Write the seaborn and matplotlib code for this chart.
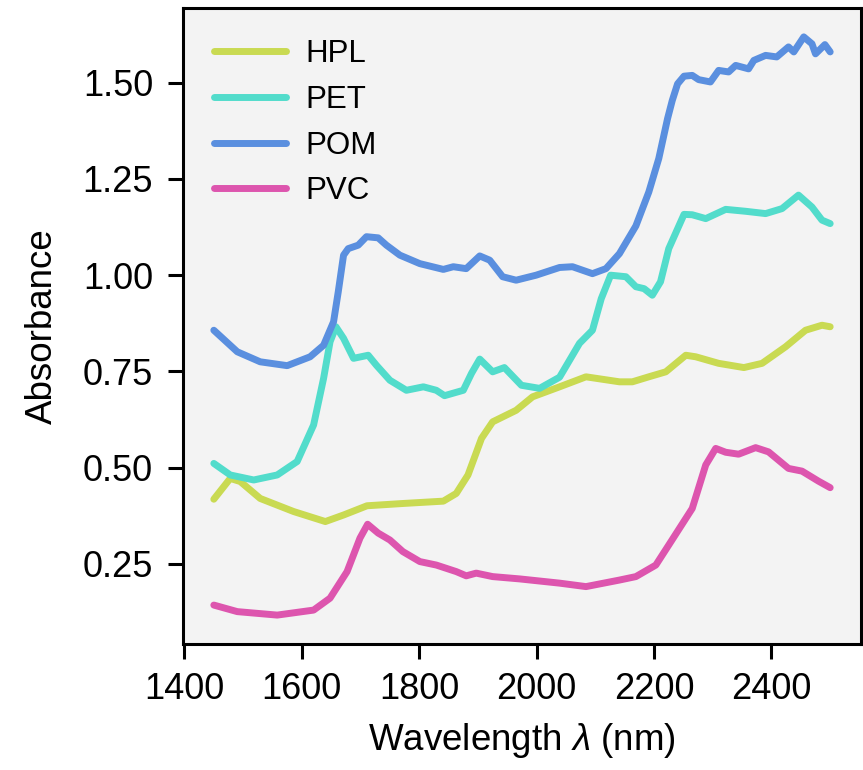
import matplotlib
matplotlib.use("Agg")
import matplotlib.pyplot as plt
import seaborn as sns
import pandas as pd

# ---- data ----
hpl_wl = [1450, 1478, 1495, 1529, 1586, 1640, 1671, 1711, 1773, 1841, 1863, 1883, 1906, 1925,
          1965, 1993, 2039, 2084, 2141, 2163, 2191, 2220, 2254, 2271, 2310, 2353, 2384, 2424,
          2458, 2486, 2500]
hpl_abs = [0.418, 0.472, 0.464, 0.420, 0.386, 0.360, 0.377, 0.401, 0.407, 0.413, 0.433, 0.481,
           0.576, 0.619, 0.649, 0.684, 0.710, 0.736, 0.723, 0.723, 0.736, 0.749, 0.792, 0.788,
           0.771, 0.760, 0.771, 0.814, 0.857, 0.870, 0.866]

pet_wl = [1450, 1478, 1518, 1558, 1592, 1620, 1637, 1648, 1658, 1671, 1688, 1713, 1727, 1750,
          1778, 1807, 1829, 1843, 1875, 1889, 1903, 1925, 1945, 1974, 2005, 2039, 2073, 2095,
          2110, 2126, 2152, 2169, 2183, 2197, 2211, 2225, 2251, 2265, 2288, 2322, 2356, 2390,
          2418, 2446, 2469, 2486, 2500]
pet_abs = [0.511, 0.481, 0.468, 0.481, 0.516, 0.611, 0.732, 0.827, 0.866, 0.836, 0.784, 0.792,
           0.766, 0.727, 0.701, 0.710, 0.701, 0.687, 0.701, 0.745, 0.782, 0.749, 0.760, 0.714,
           0.706, 0.735, 0.823, 0.857, 0.939, 1.000, 0.996, 0.970, 0.965, 0.948, 0.983, 1.069,
           1.158, 1.157, 1.147, 1.171, 1.166, 1.160, 1.173, 1.208, 1.177, 1.143, 1.134]

pom_wl = [1450, 1490, 1529, 1575, 1614, 1637, 1654, 1662, 1671, 1679, 1696, 1710, 1730, 1744,
          1767, 1801, 1841, 1858, 1880, 1903, 1920, 1942, 1965, 1999, 2039, 2061, 2095, 2118,
          2141, 2169, 2191, 2208, 2223, 2231, 2240, 2251, 2265, 2276, 2296, 2310, 2327, 2339,
          2361, 2370, 2390, 2409, 2429, 2438, 2455, 2469, 2475, 2491, 2500]
pom_abs = [0.857, 0.801, 0.775, 0.765, 0.788, 0.818, 0.879, 0.957, 1.052, 1.069, 1.078, 1.100,
           1.097, 1.078, 1.052, 1.030, 1.015, 1.022, 1.017, 1.050, 1.039, 0.996, 0.987, 1.000,
           1.020, 1.022, 1.004, 1.017, 1.056, 1.128, 1.216, 1.303, 1.407, 1.454, 1.497, 1.517,
           1.519, 1.508, 1.502, 1.532, 1.528, 1.545, 1.536, 1.558, 1.571, 1.567, 1.593, 1.580,
           1.619, 1.601, 1.575, 1.599, 1.580]

pvc_wl = [1450, 1490, 1558, 1620, 1648, 1677, 1699, 1712, 1730, 1750, 1772, 1801, 1829, 1863,
          1880, 1897, 1925, 1971, 2039, 2084, 2141, 2169, 2203, 2225, 2265, 2288, 2305, 2322,
          2344, 2373, 2395, 2429, 2452, 2480, 2500]
pvc_abs = [0.143, 0.126, 0.117, 0.130, 0.161, 0.230, 0.317, 0.353, 0.330, 0.312, 0.282, 0.256,
           0.247, 0.230, 0.219, 0.226, 0.217, 0.211, 0.200, 0.191, 0.208, 0.217, 0.247, 0.299,
           0.394, 0.507, 0.550, 0.540, 0.535, 0.552, 0.541, 0.498, 0.491, 0.465, 0.448]

materials = ["HPL", "PET", "POM", "PVC"]
colors = ["#c9da52", "#52dccb", "#5a8fdf", "#dd55ae"]
yticks = [0.25, 0.50, 0.75, 1.00, 1.25, 1.50]
xticks = [1400, 1600, 1800, 2000, 2200, 2400]

frames = []
for name, wl, ab in zip(materials, [hpl_wl, pet_wl, pom_wl, pvc_wl],
                        [hpl_abs, pet_abs, pom_abs, pvc_abs]):
    frames.append(pd.DataFrame({"wl": wl, "abs": ab, "material": name}))
df = pd.concat(frames, ignore_index=True)

sns.set_theme(style="ticks")
plt.rcParams["font.family"] = ["Liberation Sans", "DejaVu Sans"]
plt.rcParams["text.color"] = "black"
plt.rcParams["axes.labelcolor"] = "black"
plt.rcParams["mathtext.fontset"] = "custom"
plt.rcParams["mathtext.it"] = "Liberation Sans:italic"
plt.rcParams["mathtext.rm"] = "Liberation Sans"

fig = plt.figure(figsize=(8.63, 7.70), dpi=100)
ax = fig.add_axes([183 / 863, 1 - 644 / 770, (861 - 183) / 863, (644 - 8) / 770])
ax.set_facecolor("#f3f3f3")

sns.lineplot(data=df, x="wl", y="abs", hue="material", hue_order=materials,
             palette=colors, estimator=None, sort=False, linewidth=5, ax=ax)

ax.set_xticks(xticks)
ax.set_yticks(yticks)
ax.set_yticklabels([f"{v:.2f}" for v in yticks])
ax.set_xlabel("Wavelength $\\lambda$ (nm)", fontsize=26.5, labelpad=10)
ax.set_ylabel("Absorbance", fontsize=26.5, labelpad=16)
ax.tick_params(axis="both", labelsize=26, length=10.5, width=2.2, color="black",
               labelcolor="black")
ax.tick_params(axis="y", pad=11)
ax.tick_params(axis="x", pad=10)
for s in ax.spines.values():
    s.set_visible(True)
    s.set_linewidth(2.2)
    s.set_color("black")

leg = ax.legend(loc="upper left", frameon=False, fontsize=22.5, handlelength=2.3,
                handletextpad=0.6, labelspacing=0.5, borderaxespad=0.6)
for line in leg.get_lines():
    line.set_linewidth(5)

fig.savefig("out.png", dpi=100)
